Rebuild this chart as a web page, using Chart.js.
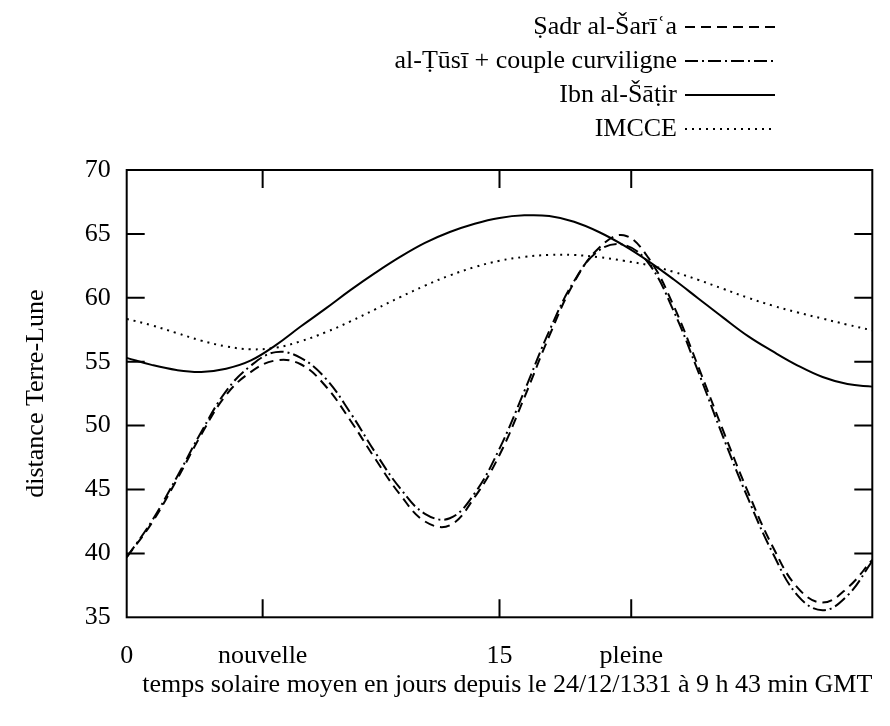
<!DOCTYPE html>
<html><head><meta charset="utf-8">
<script src="https://cdn.jsdelivr.net/npm/chart.js@4/dist/chart.umd.min.js"></script>
<style>html,body{margin:0;padding:0;background:#fff;}#wrap{width:890px;height:726px;}</style>
</head><body><div id="wrap"><canvas id="c" width="890" height="726"></canvas></div>
<script>
// ---- data ----
const days = [0,1,2,3,4,5,6,7,8,9,10,11,12,13,14,15,16,17,18,19,20,21,22,23,24,25,26,27,28,29,30];
const sadr  = [39.7,42.35,45.7,49.3,52.4,54.2,55.1,54.8,53.1,50.4,47.4,44.6,42.5,42.2,44.4,47.7,52.2,57.0,61.2,63.9,64.9,63.1,59.4,54.6,49.6,44.8,40.5,37.3,36.15,37.3,39.5];
const tusi  = [39.7,42.5,45.9,49.5,52.7,54.7,55.75,55.3,53.7,51.0,47.9,45.1,43.1,42.75,44.7,48.2,52.7,57.4,61.3,63.7,64.15,62.7,59.0,54.2,49.1,44.3,40.0,36.7,35.55,36.7,39.4];
const ibn   = [55.3,54.75,54.35,54.2,54.45,55.1,56.3,57.75,59.15,60.6,61.95,63.2,64.3,65.15,65.8,66.25,66.45,66.4,65.95,65.15,64.1,62.85,61.45,59.95,58.45,57.0,55.8,54.7,53.8,53.25,53.05];
const imcce = [58.35,57.85,57.25,56.65,56.2,55.97,56.1,56.6,57.3,58.15,59.1,60.05,60.95,61.75,62.4,62.9,63.2,63.35,63.35,63.18,62.9,62.55,62.03,61.4,60.7,60.0,59.38,58.85,58.37,57.9,57.45];
const seriesLabels = ['Ṣadr al-Šarīʿa','al-Ṭūsī + couple curviligne','Ibn al-Šāṭir','IMCCE'];
const xTickValues = [0, 5.47, 15, 20.3];
const xTickLabels = ['0','nouvelle','15','pleine'];
const yTickValues = [35,40,45,50,55,60,65,70];
const xTitle = 'temps solaire moyen en jours depuis le 24/12/1331 à 9 h 43 min GMT';
const yTitle = 'distance Terre-Lune';

const FONT = '"Liberation Serif", "DejaVu Serif", serif';
const FS = 26;
const pts = arr => arr.map((v,i)=>({x:days[i], y:v}));

const frame = {
  id:'frame',
  afterDatasetsDraw(chart){
    const {ctx, chartArea:a, scales:{x,y}} = chart;
    ctx.save();
    ctx.strokeStyle='#000'; ctx.lineWidth=2; ctx.setLineDash([]);
    ctx.strokeRect(a.left, a.top, a.right-a.left, a.bottom-a.top);
    const L=18;
    ctx.beginPath();
    x.ticks.forEach(t=>{const p=x.getPixelForValue(t.value); if(p<=a.left+1||p>=a.right-1) return;
      ctx.moveTo(p,a.bottom); ctx.lineTo(p,a.bottom-L); ctx.moveTo(p,a.top); ctx.lineTo(p,a.top+L);});
    y.ticks.forEach(t=>{const p=y.getPixelForValue(t.value); if(p<=a.top+1||p>=a.bottom-1) return;
      ctx.moveTo(a.left,p); ctx.lineTo(a.left+L,p); ctx.moveTo(a.right,p); ctx.lineTo(a.right-L,p);});
    ctx.stroke();
    ctx.restore();
  }
};
const keyLegend = {
  id:'keyLegend',
  afterDraw(chart){
    const ctx=chart.ctx;
    ctx.save();
    ctx.font=FS+'px '+FONT; ctx.fillStyle='#000'; ctx.textAlign='right'; ctx.textBaseline='middle';
    chart.data.datasets.forEach((ds,i)=>{
      const yy=27+i*34;
      ctx.fillText(ds.label, 677, yy);
      ctx.beginPath(); ctx.strokeStyle='#000'; ctx.lineWidth=ds.borderWidth;
      ctx.setLineDash(ds.borderDash||[]);
      ctx.moveTo(685,yy); ctx.lineTo(775,yy); ctx.stroke();
    });
    ctx.restore();
  }
};

const mk = (label, data, dash) => ({label, data:pts(data), borderColor:'#000', borderWidth:2, borderDash:dash,
  pointRadius:0, fill:false, tension:0.4});

new Chart(document.getElementById('c'), {
  type:'line',
  data:{datasets:[
    mk(seriesLabels[0], sadr, [10,6]),
    mk(seriesLabels[1], tusi, [13,4,2,4]),
    mk(seriesLabels[2], ibn, []),
    mk(seriesLabels[3], imcce, [2,5])
  ]},
  options:{
    responsive:false, animation:false, devicePixelRatio:1,
    layout:{padding:{left:0, top:170, right:17.7, bottom:0}},
    plugins:{legend:{display:false}, tooltip:{enabled:false}, title:{display:false}},
    scales:{
      x:{type:'linear', min:0, max:30,
        afterBuildTicks:s=>{s.ticks = xTickValues.map(v=>({value:v}));},
        afterFit:s=>{s.height=108.7;},
        grid:{display:false, drawTicks:false}, border:{display:false},
        ticks:{autoSkip:false, maxRotation:0, padding:23, color:'#000', font:{family:FONT, size:FS},
          callback:(v,i)=>xTickLabels[i]},
        title:{display:true, text:xTitle, align:'end', color:'#000', font:{family:FONT, size:FS}, padding:{top:0,bottom:25}}
      },
      y:{type:'linear', min:35, max:70,
        afterBuildTicks:s=>{s.ticks = yTickValues.map(v=>({value:v}));},
        afterFit:s=>{s.width=126.7;},
        grid:{display:false, drawTicks:false}, border:{display:false},
        ticks:{padding:16, color:'#000', font:{family:FONT, size:FS}},
        title:{display:true, text:yTitle, color:'#000', font:{family:FONT, size:FS}, padding:{top:21,bottom:0}}
      }
    }
  },
  plugins:[frame, keyLegend]
});
</script></body></html>
